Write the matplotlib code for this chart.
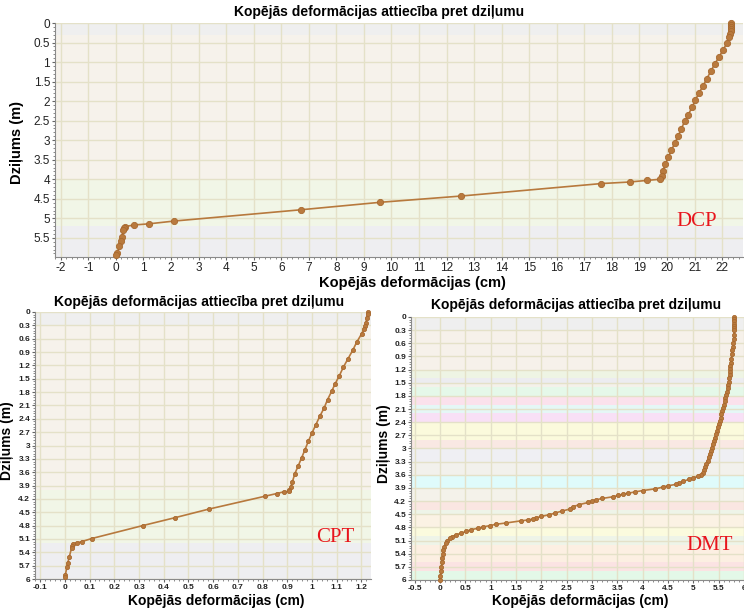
import matplotlib
matplotlib.use("Agg")
import matplotlib.pyplot as plt
from matplotlib.ticker import MultipleLocator, AutoMinorLocator, FormatStrFormatter
import numpy as np

plt.rcParams['font.family'] = ['Liberation Sans', 'DejaVu Sans']

# DCP - depth (m) and total deformation (cm)
dcp_depth = [0.0, 0.05, 0.1, 0.15, 0.2, 0.28, 0.37, 0.50, 0.68, 0.87,
             1.05, 1.24, 1.43, 1.60, 1.78, 1.97, 2.16, 2.35, 2.52, 2.71,
             2.90, 3.08, 3.26, 3.44, 3.62, 3.79, 3.91, 4.00, 4.03, 4.07,
             4.11, 4.43, 4.59, 4.78, 5.07, 5.14, 5.17, 5.21, 5.24, 5.29,
             5.48, 5.58, 5.72, 5.89, 5.94]
dcp_def = [22.32, 22.32, 22.32, 22.32, 22.31, 22.30, 22.26, 22.19, 22.04, 21.89,
           21.73, 21.59, 21.44, 21.32, 21.17, 21.03, 20.91, 20.77, 20.64, 20.52,
           20.40, 20.28, 20.16, 20.04, 19.94, 19.84, 19.81, 19.75, 19.27, 18.65,
           17.62, 12.52, 9.59, 6.73, 2.11, 1.21, 0.67, 0.33, 0.30, 0.27,
           0.22, 0.17, 0.12, 0.05, 0.0]

# CPT
cpt_depth = [0.0, 0.04, 0.13, 0.25, 0.32, 0.38, 0.49, 0.68, 0.86, 1.05,
             1.24, 1.43, 1.61, 1.78, 1.97, 2.16, 2.34, 2.53, 2.72, 2.91,
             3.09, 3.28, 3.45, 3.63, 3.83, 3.93, 3.99, 4.03, 4.04, 4.08,
             4.14, 4.43, 4.62, 4.80, 5.09, 5.16, 5.19, 5.21, 5.25, 5.30,
             5.50, 5.63, 5.74, 5.90, 5.96]
cpt_def = [1.228, 1.225, 1.221, 1.219, 1.216, 1.212, 1.201, 1.181, 1.165, 1.146,
           1.127, 1.111, 1.094, 1.080, 1.063, 1.049, 1.032, 1.016, 1.000, 0.985,
           0.972, 0.958, 0.945, 0.931, 0.920, 0.914, 0.908, 0.906, 0.887, 0.857,
           0.810, 0.582, 0.447, 0.315, 0.109, 0.068, 0.047, 0.031, 0.029, 0.027,
           0.018, 0.012, 0.008, 0.002, 0.001]

# DMT
dmt_depth = [0.00, 0.05, 0.10, 0.15, 0.20, 0.25, 0.30, 0.40, 0.50, 0.60,
             0.68, 0.75, 0.85, 0.95, 1.05, 1.12, 1.18, 1.25, 1.32, 1.40,
             1.48, 1.55, 1.62, 1.70, 1.78, 1.85, 1.92, 2.00, 2.08, 2.15,
             2.22, 2.30, 2.38, 2.45, 2.52, 2.60, 2.68, 2.75, 2.82, 2.90,
             2.98, 3.05, 3.12, 3.20, 3.28, 3.35, 3.42, 3.50, 3.55, 3.60,
             3.63, 3.67, 3.70, 3.75, 3.79, 3.82, 3.85, 3.88, 3.92, 3.96,
             3.99, 4.02, 4.04, 4.07, 4.10, 4.14, 4.17, 4.20, 4.23, 4.28,
             4.33, 4.38, 4.43, 4.47, 4.51, 4.55, 4.58, 4.61, 4.63, 4.65,
             4.70, 4.73, 4.76, 4.79, 4.82, 4.85, 4.89, 4.93, 4.97, 5.01,
             5.05, 5.10, 5.16, 5.24, 5.32, 5.40, 5.50, 5.60, 5.70, 5.80,
             5.90, 6.00]
dmt_def = [5.81, 5.81, 5.81, 5.81, 5.81, 5.81, 5.81, 5.80, 5.80, 5.79,
           5.78, 5.77, 5.76, 5.75, 5.74, 5.73, 5.73, 5.72, 5.72, 5.71,
           5.70, 5.69, 5.68, 5.66, 5.65, 5.63, 5.62, 5.60, 5.59, 5.57,
           5.55, 5.54, 5.52, 5.50, 5.48, 5.47, 5.45, 5.42, 5.40, 5.38,
           5.36, 5.35, 5.33, 5.30, 5.28, 5.26, 5.24, 5.21, 5.19, 5.15,
           5.10, 5.00, 4.92, 4.80, 4.72, 4.65, 4.50, 4.40, 4.25, 4.00,
           3.85, 3.72, 3.62, 3.52, 3.42, 3.20, 3.08, 3.00, 2.93, 2.75,
           2.62, 2.57, 2.40, 2.28, 2.16, 2.00, 1.90, 1.83, 1.74, 1.60,
           1.30, 1.10, 0.98, 0.85, 0.75, 0.62, 0.52, 0.42, 0.32, 0.24,
           0.19, 0.14, 0.11, 0.09, 0.07, 0.06, 0.05, 0.04, 0.03, 0.02,
           0.01, 0.00]

# soil layers (top, bottom) and fill colours
simple_layers = [(0.0, 0.3), (0.3, 4.0), (4.0, 5.2), (5.2, 6.0)]
simple_colors = ['#efefef', '#f6f2eb', '#f1f6e7', '#eeeef1']

dmt_layers = [(0.0, 0.3), (0.3, 1.2), (1.2, 1.4), (1.4, 1.5), (1.5, 1.6),
              (1.6, 1.8), (1.8, 2.0), (2.0, 2.2), (2.2, 2.4), (2.4, 2.8),
              (2.8, 3.0), (3.0, 3.3), (3.3, 3.6), (3.6, 3.9), (3.9, 4.2),
              (4.2, 4.4), (4.4, 4.5), (4.5, 4.8), (4.8, 5.0), (5.0, 5.2),
              (5.2, 5.6), (5.6, 5.8), (5.8, 6.0)]
dmt_colors = ['#efefef', '#f6f1ea', '#eef4e4', '#ececf0', '#f4f1ea',
              '#e5f8e9', '#fbe1ec', '#e5f7f6', '#f8e0f6', '#fbfadc',
              '#f9e8e3', '#efeff3', '#f2f1ec', '#dffbfb', '#f4f2ea',
              '#fae6e2', '#eef4e8', '#fbf2e4', '#fbfbde', '#eef4e8',
              '#fcefe2', '#fbe3e3', '#e3f8e8']

title = "Kopējās deformācijas attiecība pret dziļumu"
xlab = "Kopējās deformācijas (cm)"
ylab = "Dziļums (m)"

W, H = 744, 610
fig = plt.figure(figsize=(7.44, 6.10), dpi=100)


def px_axes(left, top, right, bottom):
    return fig.add_axes([left / W, 1 - bottom / H, (right - left) / W, (bottom - top) / H])


def fig_text(x, y, s, **kw):
    fig.text(x / W, 1 - y / H, s, ha='center', va='center', **kw)


def draw_panel(ax, depth, defo, layers, colors, xlim, ylim, xstep, ystep, ms, tick_fs, tick_w):
    for (a, b), c in zip(layers, colors):
        ax.axhspan(a, b, color=c, zorder=0, lw=0)
    ax.plot(defo, depth, '-o', color='#b7793d', lw=1.2, ms=ms,
            mfc='#b97a3e', mec='#a8692f', mew=0.6, zorder=3, clip_on=False)
    ax.set_xlim(*xlim)
    ax.set_ylim(*ylim)
    ax.xaxis.set_major_locator(MultipleLocator(xstep))
    ax.yaxis.set_major_locator(MultipleLocator(ystep))
    ax.xaxis.set_minor_locator(AutoMinorLocator(5))
    ax.yaxis.set_minor_locator(AutoMinorLocator(5))
    ax.xaxis.set_major_formatter(FormatStrFormatter('%g'))
    ax.yaxis.set_major_formatter(FormatStrFormatter('%g'))
    ax.set_axisbelow(True)
    ax.grid(True, which='major', color='#e4e1c8', lw=1)
    for s in ['top', 'right']:
        ax.spines[s].set_visible(False)
    for s in ['left', 'bottom']:
        ax.spines[s].set_color('#8a8a8a')
    ax.tick_params(which='major', length=2.5, width=0.8, color='#666666',
                   labelsize=tick_fs, pad=1, labelcolor='#222222')
    ax.tick_params(which='minor', length=1.5, width=0.6, color='#777777')
    for lab in ax.get_xticklabels() + ax.get_yticklabels():
        lab.set_fontweight(tick_w)


# top panel - DCP
ax1 = px_axes(55, 23, 743, 257)
draw_panel(ax1, dcp_depth, dcp_def, simple_layers, simple_colors,
           (-2.21, 22.76), (5.99, 0), 1, 0.5, 4.5, 8.5, 'normal')
fig_text(379, 12, title, fontsize=10, fontweight='bold')
fig_text(412, 283, xlab, fontsize=10.5, fontweight='bold')
fig_text(17, 142, ylab, fontsize=10.5, fontweight='bold', rotation=90)
fig_text(697, 222, "DCP", fontsize=15, color='#e8141c', family='Liberation Serif')

# bottom left - CPT
ax2 = px_axes(35, 312, 371, 579)
draw_panel(ax2, cpt_depth, cpt_def, simple_layers, simple_colors,
           (-0.121, 1.239), (6, 0), 0.1, 0.3, 3, 6, 'bold')
fig_text(199, 302, title, fontsize=10, fontweight='bold')
fig_text(216, 601, xlab, fontsize=10, fontweight='bold')
fig_text(7, 441, ylab, fontsize=10, fontweight='bold', rotation=90)
fig_text(335, 538, "CPT", fontsize=15, color='#e8141c', family='Liberation Serif')

# bottom right - DMT
ax3 = px_axes(411, 317, 744, 580)
draw_panel(ax3, dmt_depth, dmt_def, dmt_layers, dmt_colors,
           (-0.571, 6.0), (6, 0), 0.5, 0.3, 3, 6, 'bold')
fig_text(576, 305, title, fontsize=10, fontweight='bold')
fig_text(580, 601, xlab, fontsize=10, fontweight='bold')
fig_text(384, 444, ylab, fontsize=10, fontweight='bold', rotation=90)
fig_text(710, 546, "DMT", fontsize=15, color='#e8141c', family='Liberation Serif')

fig.savefig('out.png', dpi=100)
